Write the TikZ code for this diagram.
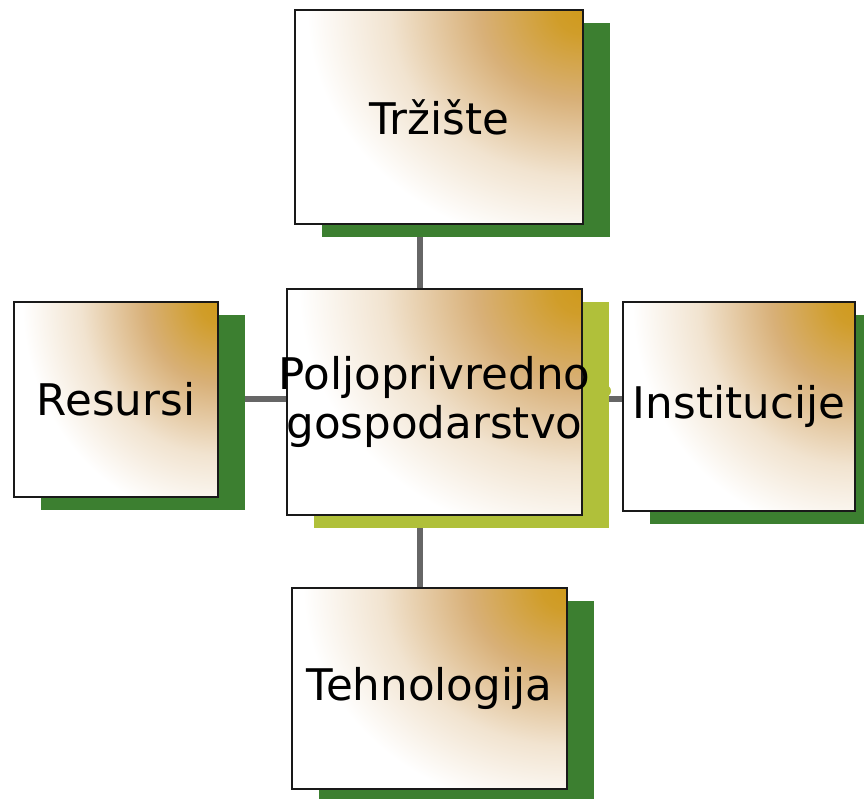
\documentclass[tikz,border=0pt]{standalone}
\usepackage{fontspec}
\setmainfont{DejaVu Sans}
\usepackage{tikz}
\usetikzlibrary{shadows,backgrounds,calc}
\definecolor{zlatna}{HTML}{CF9A1C}
\definecolor{smeda}{HTML}{D8B078}
\definecolor{zelena}{HTML}{3C7F30}
\definecolor{zutozelena}{HTML}{B0C03A}
\definecolor{sivaveza}{HTML}{666666}
\pgfdeclareradialshading{kutak}{\pgfpoint{0bp}{0bp}}{color(0bp)=(zlatna); color(2bp)=(zlatna!85!smeda); color(7.5bp)=(smeda); color(14bp)=(smeda!35!white); color(20bp)=(white); color(50bp)=(white)}
\tikzstyle{blok}=[draw=black!90,line width=1.4pt,fill=white,
  path picture={%
    \path let
      \p1 = ($(path picture bounding box.north east)-(path picture bounding box.south west)$)
      in
        [shading=kutak] (path picture bounding box.north east) ellipse ({1.2*abs(\x1)} and {1.4*abs(\y1)});
  },
  align=center,font=\fontsize{31}{35}\selectfont,inner sep=2pt,
  drop shadow={shadow xshift=0.675cm,shadow yshift=-0.325cm,fill=zelena,opacity=1}]
\tikzstyle{veza}=[draw=sivaveza,line width=4pt]

\begin{document}
\begin{tikzpicture}[x=0.025cm,y=-0.025cm]
    \useasboundingbox (0,0) rectangle (864,799);

          \node[blok,minimum width=7.175cm,minimum height=5.325cm] (trziste) at (439,117) {Tržište};
          \node[blok,minimum width=7.375cm,minimum height=5.65cm,inner xsep=-0.3cm,
                drop shadow={shadow xshift=0.675cm,shadow yshift=-0.325cm,fill=zutozelena,opacity=1}]
                (gospodarstvo) at (434.5,402) {Poljoprivredno\\gospodarstvo};
          \node[blok,minimum width=5.1cm,minimum height=4.875cm] (resursi) at (116,399.5) {Resursi};
          \node[blok,minimum width=5.8cm,minimum height=5.225cm] (institucije) at (739,406.5) {Institucije};
          \node[blok,minimum width=6.875cm,minimum height=5.025cm] (tehnologija) at (429.5,688.5) {Tehnologija};

          \coordinate (os) at (420,0);
          \coordinate (vod) at (0,399);
          \begin{scope}[on background layer]
            \path[veza] (trziste -| os) -- (tehnologija -| os)
                        (resursi |- vod) -- (institucije |- vod);
            \fill[zutozelena] (605,391) circle (6);
          \end{scope}
        \end{tikzpicture}
\end{document}
